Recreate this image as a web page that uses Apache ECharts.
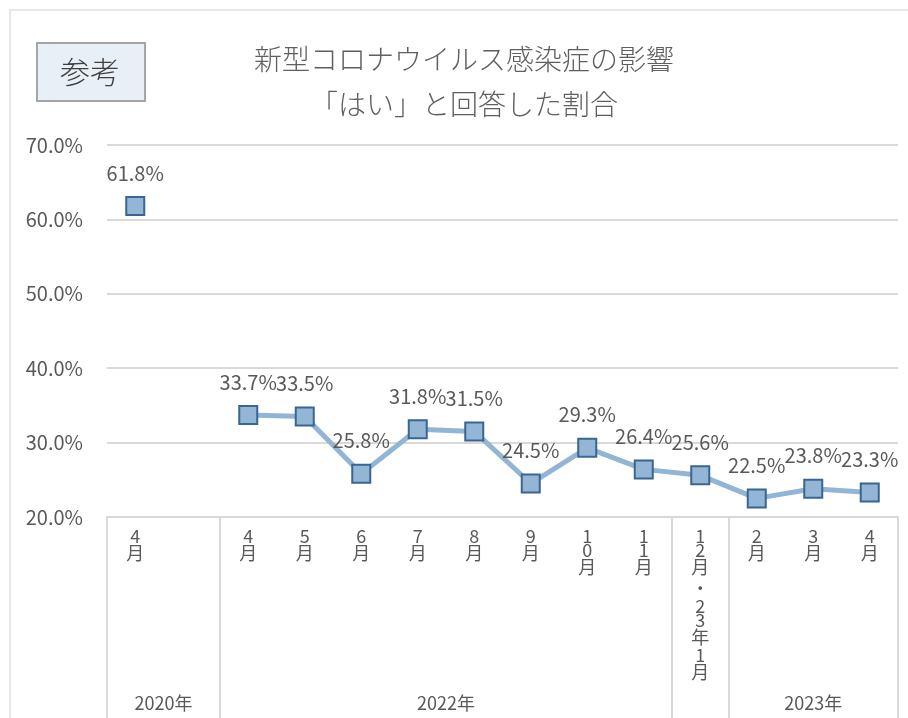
<!DOCTYPE html>
<html>
<head>
<meta charset="utf-8">
<script src="https://cdn.jsdelivr.net/npm/echarts@6/dist/echarts.min.js"></script>
<style>
html,body{margin:0;padding:0;background:#fff;}
#main{width:908px;height:718px;}
</style>
</head>
<body>
<div id="main"></div>
<script>
// ---- data ----
var categories = ['4月', '', '4月', '5月', '6月', '7月', '8月', '9月', '10月', '11月', '12月・23年1月', '2月', '3月', '4月'];
var values = [61.8, null, 33.7, 33.5, 25.8, 31.8, 31.5, 24.5, 29.3, 26.4, 25.6, 22.5, 23.8, 23.3];
var groupNames = ['2020年', '2022年', '', '2023年'];
var groupSpans = [2, 8, 1, 3];
var yTicks = [20, 30, 40, 50, 60, 70];
var titleLines = ['新型コロナウイルス感染症の影響', '「はい」と回答した割合'];
var badgeText = '参考';

// ---- build half-slot group axis ----
var halfSlots = [];
var labelSlots = {};
var boundarySlots = {};
var pos = 0;
boundarySlots[0] = true;
for (var g = 0; g < groupSpans.length; g++) {
  var centerSlot = pos + groupSpans[g];
  labelSlots[centerSlot] = groupNames[g];
  pos += groupSpans[g] * 2;
  boundarySlots[pos] = true;
}
for (var k = 0; k <= pos; k++) halfSlots.push(labelSlots[k] !== undefined ? labelSlots[k] : ' ');

var FONT = '"Noto Sans CJK JP", "Noto Sans", sans-serif';
var TXT = '#595959';

function stackLabel(v) {
  if (!v) return '';
  var chars = v.split('');
  return chars.map(function (c) {
    return /[0-9]/.test(c) ? '{d|' + c + '}' : '{c|' + c + '}';
  }).join('\n');
}

var chart = echarts.init(document.getElementById('main'), null, {renderer: 'canvas'});
chart.setOption({
  animation: false,
  backgroundColor: '#ffffff',
  title: {
    text: titleLines.join('\n'),
    left: 459,
    top: 32,
    textAlign: 'center',
    textStyle: {fontFamily: FONT, fontSize: 28, fontWeight: 300, color: '#5f5f5f', lineHeight: 45}
  },
  graphic: [
    {type: 'rect', silent: true, shape: {x: 10, y: 10, width: 1000, height: 1000},
      style: {fill: 'none', stroke: '#e8e8e8', lineWidth: 2}},
    {type: 'rect', silent: true, shape: {x: 37, y: 43, width: 108, height: 58},
      style: {fill: '#e9eff6', stroke: '#a6a6a6', lineWidth: 2}},
    {type: 'text', silent: true, x: 90, y: 72,
      style: {text: badgeText, fontFamily: FONT, fontSize: 30, fontWeight: 300, fill: '#404040', align: 'center', verticalAlign: 'middle'}}
  ],
  grid: {left: 107, right: 10, top: 145, bottom: 201},
  xAxis: [
    {
      type: 'category',
      data: categories,
      boundaryGap: true,
      axisLine: {show: true, lineStyle: {color: '#d9d9d9', width: 2}},
      axisTick: {show: false},
      axisLabel: {
        interval: 0,
        margin: 12,
        formatter: stackLabel,
        color: TXT,
        rich: {
          d: {fontFamily: FONT, fontSize: 18, color: TXT, lineHeight: 14, align: 'center'},
          c: {fontFamily: FONT, fontSize: 18, color: TXT, lineHeight: 21, align: 'center'}
        }
      },
      splitLine: {show: false}
    },
    {
      type: 'category',
      data: halfSlots,
      boundaryGap: false,
      position: 'bottom',
      axisLine: {show: false},
      axisTick: {
        show: true,
        length: 201,
        interval: function (index) { return !!boundarySlots[index]; },
        lineStyle: {color: '#d9d9d9', width: 2}
      },
      axisLabel: {
        interval: function (index) { return labelSlots[index] !== undefined; },
        margin: 177,
        fontFamily: FONT,
        fontSize: 18,
        color: TXT
      },
      splitLine: {show: false}
    }
  ],
  yAxis: {
    type: 'value',
    min: yTicks[0],
    max: yTicks[yTicks.length - 1],
    interval: yTicks[1] - yTicks[0],
    axisLine: {show: false},
    axisTick: {show: false},
    axisLabel: {
      margin: 24,
      fontFamily: FONT,
      fontSize: 20,
      color: TXT,
      formatter: function (v) { return v.toFixed(1) + '%'; }
    },
    splitLine: {lineStyle: {color: '#d9d9d9', width: 2}}
  },
  series: [{
    type: 'line',
    xAxisIndex: 0,
    data: values,
    connectNulls: false,
    symbol: 'rect',
    symbolSize: 18,
    lineStyle: {color: '#92b4d5', width: 5},
    itemStyle: {color: '#94b6d6', borderColor: '#3a6591', borderWidth: 2},
    label: {
      show: true,
      position: 'top',
      distance: 13,
      fontFamily: FONT,
      fontSize: 20,
      color: TXT,
      formatter: function (p) { return p.value == null ? '' : p.value.toFixed(1) + '%'; }
    },
    labelLayout: {hideOverlap: false},
    z: 3
  }]
});
</script>
</body>
</html>
